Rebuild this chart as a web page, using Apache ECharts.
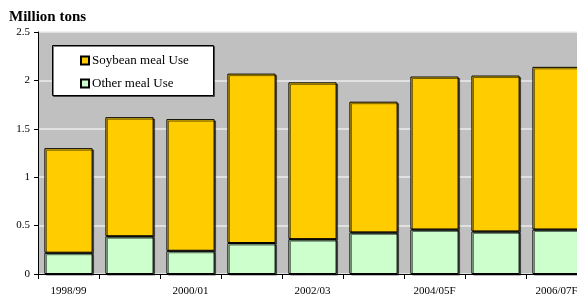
<!DOCTYPE html>
<html>
<head>
<meta charset="utf-8">
<script src="https://cdn.jsdelivr.net/npm/echarts@6/dist/echarts.min.js"></script>
<style>
  html, body { margin: 0; padding: 0; background: #fff; }
  #chart { width: 577px; height: 296px; }
</style>
</head>
<body>
<div id="chart"></div>
<script>
// marketing years
var years = ['1998/99', '1999/00', '2000/01', '2001/02', '2002/03', '2003/04', '2004/05F', '2005/06F', '2006/07F']
// million tons
var otherMeal = [0.22, 0.39, 0.24, 0.32, 0.36, 0.43, 0.46, 0.44, 0.46]
var soyMeal = [1.08, 1.23, 1.36, 1.75, 1.62, 1.35, 1.58, 1.61, 1.68]
var yTicks = [0, 0.5, 1, 1.5, 2, 2.5]

var serif = '"Liberation Serif", "DejaVu Serif", serif'
var chart = echarts.init(document.getElementById('chart'))

var barShadow = {
  borderColor: '#000',
  borderWidth: 1,
  shadowColor: 'rgba(0,0,0,0.55)',
  shadowOffsetX: 1.5,
  shadowOffsetY: 1.5,
  shadowBlur: 0
}

chart.setOption({
  animation: false,
  title: {
    text: 'Million tons',
    left: 9,
    top: 10,
    padding: 0,
    textStyle: { fontFamily: serif, fontSize: 15, fontWeight: 'bold', color: '#000' }
  },
  graphic: [{
    type: 'rect',
    z: 2,
    shape: { x: 52.5, y: 45.5, width: 161, height: 50 },
    style: { fill: '#fff', stroke: '#000', lineWidth: 1, shadowColor: 'rgba(0,0,0,0.5)', shadowOffsetX: 1, shadowOffsetY: 1 }
  }],
  legend: {
    orient: 'vertical',
    left: 75,
    top: 49,
    z: 5,
    itemWidth: 8,
    itemHeight: 8,
    itemGap: 10,
    icon: 'rect',
    textStyle: { fontFamily: serif, fontSize: 13, color: '#000', padding: [0, 0, 0, -2] },
    data: ['Soybean meal Use', 'Other meal Use']
  },
  grid: {
    left: 38,
    top: 32,
    bottom: 22,
    width: 549,
    outerBoundsMode: 'none',
    containLabel: false,
    show: true,
    backgroundColor: '#c0c0c0',
    borderWidth: 0
  },
  xAxis: {
    type: 'category',
    data: years,
    axisLine: { lineStyle: { color: '#000', width: 1 } },
    axisTick: { show: true, interval: 0, length: 5, lineStyle: { color: '#000' } },
    axisLabel: { interval: 1, fontFamily: serif, fontSize: 11, color: '#000', margin: 12 }
  },
  yAxis: {
    type: 'value',
    min: yTicks[0],
    max: yTicks[yTicks.length - 1],
    interval: 0.5,
    axisLine: { show: true, lineStyle: { color: '#000', width: 1 } },
    axisTick: { show: true, length: 4, lineStyle: { color: '#000' } },
    axisLabel: { fontFamily: serif, fontSize: 11, color: '#000', margin: 8 },
    splitLine: { lineStyle: { color: '#ececec', width: 1.5 } }
  },
  series: [
    {
      name: 'Other meal Use',
      type: 'bar',
      stack: 'use',
      barCategoryGap: '21%',
      data: otherMeal,
      itemStyle: Object.assign({ color: '#ccffcc' }, barShadow)
    },
    {
      name: 'Soybean meal Use',
      type: 'bar',
      stack: 'use',
      barCategoryGap: '21%',
      data: soyMeal,
      itemStyle: Object.assign({ color: '#ffcc00' }, barShadow)
    }
  ]
})
</script>
</body>
</html>
